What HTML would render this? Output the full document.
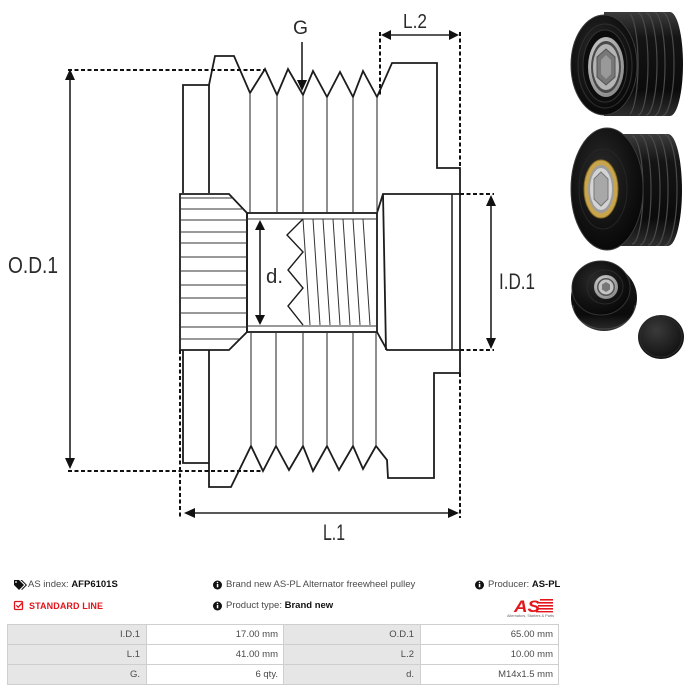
<!DOCTYPE html>
<html>
<head>
<meta charset="utf-8">
<style>
  html,body{margin:0;padding:0;background:#fff;}
  body{width:689px;height:692px;position:relative;overflow:hidden;font-family:"Liberation Sans",Arial,sans-serif;}
  svg.main{position:absolute;left:0;top:0;}
  .t{position:absolute;font-size:9.5px;color:#4a4a4a;white-space:nowrap;line-height:12px;}
  .t b{color:#111;font-weight:bold;}
  .red{color:#e3151b;font-weight:bold;font-size:9px;letter-spacing:0.1px;}
  table.spec{position:absolute;left:7px;top:624px;border-collapse:collapse;font-size:9.5px;color:#4a4a4a;}
  table.spec td{border:1px solid #cfcfcf;height:20px;padding:0 6px 0 0;text-align:right;box-sizing:border-box;}
  table.spec td.l{background:#e6e6e6;}
  table.spec td.v{background:#fff;padding-right:5px;}
</style>
</head>
<body>
<svg class="main" width="689" height="692" viewBox="0 0 689 692" xmlns="http://www.w3.org/2000/svg">
  <defs>
    <radialGradient id="face" cx="0.42" cy="0.38" r="0.7">
      <stop offset="0" stop-color="#2c2c2c"/>
      <stop offset="0.6" stop-color="#121212"/>
      <stop offset="1" stop-color="#050505"/>
    </radialGradient>
    <linearGradient id="body" x1="0" y1="0" x2="0" y2="1">
      <stop offset="0" stop-color="#3c3c3c"/>
      <stop offset="0.25" stop-color="#141414"/>
      <stop offset="0.75" stop-color="#0b0b0b"/>
      <stop offset="1" stop-color="#2e2e2e"/>
    </linearGradient>
    <radialGradient id="silver" cx="0.4" cy="0.35" r="0.8">
      <stop offset="0" stop-color="#e0e0e0"/>
      <stop offset="1" stop-color="#7a7a7a"/>
    </radialGradient>
    <radialGradient id="cap" cx="0.4" cy="0.35" r="0.75">
      <stop offset="0" stop-color="#3a3a3a"/>
      <stop offset="1" stop-color="#0c0c0c"/>
    </radialGradient>
    <clipPath id="c1"><path d="M604,12 L670,12 A13,52 0 0 1 670,116 L604,116 Z"/></clipPath>
    <clipPath id="c2"><path d="M610,134 L668,134 A14,56 0 0 1 668,246 L610,246 Z"/></clipPath>
    <clipPath id="c3"><ellipse cx="604" cy="298" rx="33" ry="33"/></clipPath>
  </defs>

  <!-- ===== TECHNICAL DRAWING ===== -->
  <g fill="none" stroke="#1c1c1c" stroke-width="1.8" stroke-linejoin="miter">
    <path d="M183,193 L183,85 L209,85 L215,56 L234,56 L250,93 L265,69 L277,95 L288,69 L303,95 L313,71 L327,97 L340,72 L353,97 L363,71 L377,97 L392,63 L437,63 L437,168 L460,168 L460,373"/>
    <line x1="209" y1="85" x2="209" y2="193"/>
    <path d="M183,350 L183,463 L209,463"/>
    <path d="M209,350 L209,487 L231,487 L251,446 L263,471 L276,446 L289,470 L303,446 L313,471 L327,446 L339,470 L353,446 L363,469 L376,446 L387,460 L388,478 L434,478 L434,373 L460,373"/>
    <path d="M180,194 L229,194 L247,213 L247,332 L229,350 L180,350 Z"/>
    <rect x="247" y="213" width="130" height="119"/>
    <path d="M377,213 L383,194 L460,194"/>
    <path d="M377,332 L387,350 L460,350"/>
    <line x1="383" y1="194" x2="386" y2="350"/>
    <line x1="452" y1="194" x2="452" y2="350" stroke-width="1.5"/>
  </g>
  <g stroke="#333" stroke-width="1.1">
    <line x1="250" y1="93" x2="250" y2="213"/>
    <line x1="277" y1="95" x2="277" y2="213"/>
    <line x1="303" y1="95" x2="303" y2="213"/>
    <line x1="327" y1="97" x2="327" y2="213"/>
    <line x1="353" y1="97" x2="353" y2="213"/>
    <line x1="377" y1="97" x2="377" y2="213"/>
    <line x1="251" y1="332" x2="251" y2="446"/>
    <line x1="276" y1="332" x2="276" y2="446"/>
    <line x1="303" y1="332" x2="303" y2="446"/>
    <line x1="327" y1="332" x2="327" y2="446"/>
    <line x1="353" y1="332" x2="353" y2="446"/>
    <line x1="376" y1="332" x2="376" y2="446"/>
  </g>
  <g stroke="#333" stroke-width="1.1">
    <line x1="180" y1="198" x2="233" y2="198"/>
    <line x1="180" y1="209" x2="243" y2="209"/>
    <line x1="180" y1="220" x2="247" y2="220"/>
    <line x1="180" y1="232" x2="247" y2="232"/>
    <line x1="180" y1="243" x2="247" y2="243"/>
    <line x1="180" y1="257" x2="247" y2="257"/>
    <line x1="180" y1="271" x2="247" y2="271"/>
    <line x1="180" y1="285" x2="247" y2="285"/>
    <line x1="180" y1="298" x2="247" y2="298"/>
    <line x1="180" y1="313" x2="247" y2="313"/>
    <line x1="180" y1="327" x2="247" y2="327"/>
    <line x1="180" y1="339" x2="239" y2="339"/>
    <line x1="247" y1="219" x2="377" y2="219"/>
    <line x1="247" y1="326" x2="377" y2="326"/>
  </g>
  <g fill="none" stroke="#1c1c1c" stroke-width="1.4">
    <polyline points="303,219 287,235 303,252 288,270 303,288 288,306 303,325"/>
  </g>
  <g stroke="#333" stroke-width="1">
    <line x1="303" y1="219" x2="310" y2="325"/>
    <line x1="313" y1="219" x2="320" y2="325"/>
    <line x1="323" y1="219" x2="330" y2="325"/>
    <line x1="333" y1="219" x2="340" y2="325"/>
    <line x1="343" y1="219" x2="350" y2="325"/>
    <line x1="353" y1="219" x2="360" y2="325"/>
    <line x1="363" y1="219" x2="370" y2="325"/>
  </g>

  <g stroke="#111" stroke-width="2" stroke-dasharray="4 2.5" fill="none">
    <line x1="68" y1="70" x2="265" y2="70"/>
    <line x1="68" y1="471" x2="262" y2="471"/>
    <line x1="380" y1="32" x2="380" y2="97"/>
    <line x1="460" y1="32" x2="460" y2="168"/>
    <line x1="460" y1="373" x2="460" y2="518"/>
    <line x1="180" y1="350" x2="180" y2="518"/>
    <line x1="460" y1="194" x2="494" y2="194"/>
    <line x1="460" y1="350" x2="494" y2="350"/>
  </g>

  <g stroke="#222" stroke-width="1.6">
    <line x1="302" y1="42" x2="302" y2="83"/>
    <line x1="388" y1="35" x2="452" y2="35"/>
    <line x1="70" y1="78" x2="70" y2="460"/>
    <line x1="260" y1="228" x2="260" y2="318"/>
    <line x1="491" y1="204" x2="491" y2="340"/>
    <line x1="192" y1="513" x2="451" y2="513"/>
  </g>
  <g fill="#111">
    <polygon points="297,80 307,80 302,91"/>
    <polygon points="381,35 391,30 391,40"/>
    <polygon points="459,35 449,30 449,40"/>
    <polygon points="70,69 65,80 75,80"/>
    <polygon points="70,469 65,458 75,458"/>
    <polygon points="260,220 255,230 265,230"/>
    <polygon points="260,325 255,315 265,315"/>
    <polygon points="491,195 486,206 496,206"/>
    <polygon points="491,349 486,338 496,338"/>
    <polygon points="184,513 195,508 195,518"/>
    <polygon points="459,513 448,508 448,518"/>
  </g>

  <g font-family="Liberation Sans, Arial, sans-serif" fill="#2a2a2a">
    <text x="293" y="34" font-size="19" textLength="15" lengthAdjust="spacingAndGlyphs">G</text>
    <text x="403" y="28" font-size="20" textLength="24" lengthAdjust="spacingAndGlyphs">L.2</text>
    <text x="8" y="273" font-size="23" textLength="50" lengthAdjust="spacingAndGlyphs">O.D.1</text>
    <text x="499" y="289" font-size="22" textLength="36" lengthAdjust="spacingAndGlyphs">I.D.1</text>
    <text x="266" y="283" font-size="20" textLength="17" lengthAdjust="spacingAndGlyphs">d.</text>
    <text x="323" y="540" font-size="22" textLength="22" lengthAdjust="spacingAndGlyphs">L.1</text>
  </g>

  <!-- ===== PHOTOS ===== -->
  <g>
    <path d="M604,12 L670,12 A13,52 0 0 1 670,116 L604,116 Z" fill="url(#body)"/>
    <g fill="none" stroke="#4a4a4a" stroke-width="1.2" clip-path="url(#c1)">
      <path d="M630,14 A10,51 0 0 1 630,114"/>
      <path d="M638,13 A10,51 0 0 1 638,115"/>
      <path d="M646,13 A11,51 0 0 1 646,115"/>
      <path d="M654,12 A11,52 0 0 1 654,116"/>
      <path d="M662,12 A12,52 0 0 1 662,116"/>
    </g>
    <ellipse cx="604" cy="65" rx="33" ry="50" fill="url(#face)" stroke="#3a3a3a" stroke-width="1"/>
    <ellipse cx="605" cy="66" rx="27" ry="42" fill="none" stroke="#2c2c2c" stroke-width="1.2"/>
    <ellipse cx="605" cy="66" rx="22" ry="36" fill="#0c0c0c" stroke="#333" stroke-width="1"/>
    <ellipse cx="606" cy="67" rx="18" ry="30" fill="url(#silver)"/>
    <ellipse cx="606" cy="67" rx="15" ry="26" fill="#4a4a4a"/>
    <ellipse cx="606" cy="67" rx="13" ry="23" fill="#b4b4b4"/>
    <polygon points="606,49 615,57 615,77 606,85 597,77 597,57" fill="#777" stroke="#555" stroke-width="1"/>
    <polygon points="606,55 611,60 611,74 606,79 601,74 601,60" fill="#999"/>
  </g>
  <g>
    <path d="M610,134 L668,134 A14,56 0 0 1 668,246 L610,246 Z" fill="url(#body)"/>
    <g fill="none" stroke="#4a4a4a" stroke-width="1.2" clip-path="url(#c2)">
      <path d="M632,136 A11,54 0 0 1 632,244"/>
      <path d="M640,135 A11,55 0 0 1 640,245"/>
      <path d="M648,135 A12,55 0 0 1 648,245"/>
      <path d="M656,134 A12,56 0 0 1 656,246"/>
      <path d="M664,134 A13,56 0 0 1 664,246"/>
    </g>
    <ellipse cx="607" cy="189" rx="36" ry="61" fill="url(#face)" stroke="#3a3a3a" stroke-width="1"/>
    <ellipse cx="603" cy="189" rx="24" ry="40" fill="none" stroke="#262626" stroke-width="1"/>
    <ellipse cx="601" cy="189" rx="17" ry="29" fill="#c8a44c" stroke="#8a6d24" stroke-width="1"/>
    <ellipse cx="601" cy="189" rx="13" ry="24" fill="#9c9c9c"/>
    <ellipse cx="601" cy="189" rx="11" ry="21" fill="#d4d4d4"/>
    <polygon points="601,172 608,179 608,199 601,206 594,199 594,179" fill="#a8a8a8" stroke="#777" stroke-width="1"/>
  </g>
  <g>
    <ellipse cx="604" cy="298" rx="33" ry="33" fill="url(#body)"/>
    <g fill="none" stroke="#444" stroke-width="1.2" clip-path="url(#c3)">
      <path d="M573,305 A31,24 0 0 0 635,305"/>
      <path d="M574,312 A30,20 0 0 0 634,312"/>
      <path d="M577,319 A27,14 0 0 0 631,319"/>
    </g>
    <ellipse cx="601" cy="288" rx="29" ry="27" fill="url(#face)" stroke="#333" stroke-width="1"/>
    <ellipse cx="605" cy="287" rx="18" ry="17" fill="none" stroke="#2a2a2a" stroke-width="1"/>
    <circle cx="606" cy="287" r="12" fill="url(#silver)"/>
    <circle cx="606" cy="287" r="9" fill="#555"/>
    <circle cx="606" cy="287" r="7.5" fill="#c4c4c4"/>
    <polygon points="606,282 610,284.5 610,289.5 606,292 602,289.5 602,284.5" fill="#777"/>
  </g>
  <ellipse cx="661" cy="337" rx="23" ry="22" fill="url(#cap)"/>
  <ellipse cx="661" cy="337" rx="21" ry="20" fill="none" stroke="#2a2a2a" stroke-width="1"/>

  <!-- ===== ICONS ===== -->
  <g fill="#111">
    <path d="M14,580 L19,580 L24,585 L19,590 L14,585 Z"/>
    <path d="M20.5,580 L22,580 L27,585 L22,590 L21.3,589.3 L25.6,585 Z"/>
  </g>
  <circle cx="16" cy="582" r="0.9" fill="#fff"/>
  <g fill="none" stroke="#e3151b" stroke-width="1.3">
    <rect x="14.5" y="601.5" width="8" height="8" rx="1"/>
    <polyline points="16.3,605.3 18.2,607.2 22.5,602.6"/>
  </g>
  <g>
    <circle cx="217.5" cy="585" r="4.5" fill="#111"/>
    <rect x="216.8" y="584" width="1.5" height="3.3" fill="#fff"/>
    <circle cx="217.5" cy="582.5" r="0.8" fill="#fff"/>
    <circle cx="217.5" cy="606" r="4.5" fill="#111"/>
    <rect x="216.8" y="605" width="1.5" height="3.3" fill="#fff"/>
    <circle cx="217.5" cy="603.5" r="0.8" fill="#fff"/>
    <circle cx="479.5" cy="585" r="4.5" fill="#111"/>
    <rect x="478.8" y="584" width="1.5" height="3.3" fill="#fff"/>
    <circle cx="479.5" cy="582.5" r="0.8" fill="#fff"/>
  </g>
  <g>
    <text x="514" y="612" font-family="Liberation Sans, Arial, sans-serif" font-size="17" font-weight="bold" font-style="italic" fill="#e3151b" textLength="26" lengthAdjust="spacingAndGlyphs">AS</text>
    <g fill="#e3151b">
      <rect x="540" y="599" width="13" height="1.6"/>
      <rect x="539" y="602" width="14" height="1.6"/>
      <rect x="538" y="605" width="15" height="1.6"/>
      <rect x="537" y="608" width="16" height="1.6"/>
      <rect x="536" y="611" width="17" height="1.4"/>
    </g>
    <text x="507" y="617" font-family="Liberation Sans, Arial, sans-serif" font-size="3.6" fill="#666" textLength="47" lengthAdjust="spacingAndGlyphs">Alternators, Starters &amp; Parts</text>
  </g>
</svg>

<div class="t" style="left:28px;top:579px;">AS index: <b>AFP6101S</b></div>
<div class="t red" style="left:29px;top:600px;">STANDARD LINE</div>
<div class="t" style="left:226px;top:579px;">Brand new AS-PL Alternator freewheel pulley</div>
<div class="t" style="left:226px;top:600px;">Product type: <b>Brand new</b></div>
<div class="t" style="left:488px;top:579px;">Producer: <b>AS-PL</b></div>

<table class="spec">
  <tr><td class="l" style="width:139px;">I.D.1</td><td class="v" style="width:137px;">17.00 mm</td><td class="l" style="width:137px;">O.D.1</td><td class="v" style="width:138px;">65.00 mm</td></tr>
  <tr><td class="l">L.1</td><td class="v">41.00 mm</td><td class="l">L.2</td><td class="v">10.00 mm</td></tr>
  <tr><td class="l">G.</td><td class="v">6 qty.</td><td class="l">d.</td><td class="v">M14x1.5 mm</td></tr>
</table>
</body>
</html>
